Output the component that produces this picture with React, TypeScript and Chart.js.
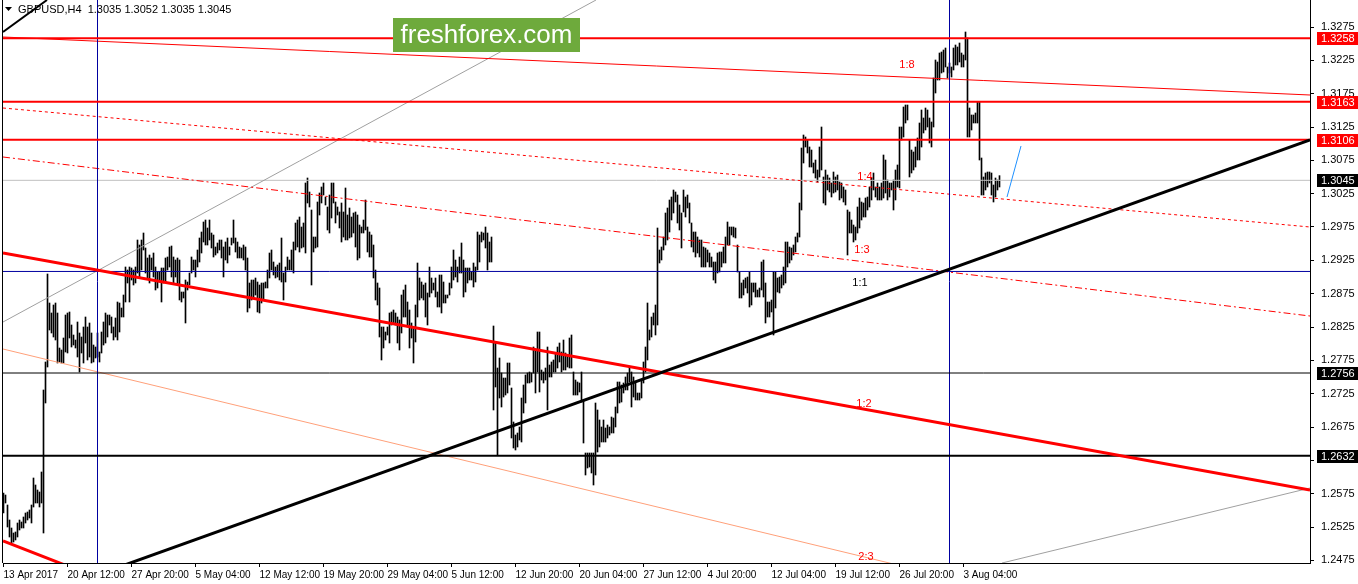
import { useEffect, useRef } from "react";
import { Chart, registerables } from "chart.js";

Chart.register(...registerables);

// H4 bars (high / low), oldest first
const barHigh: number[] = [
  1.2576, 1.2573, 1.2558, 1.25355, 1.25235, 1.2516, 1.25175, 1.2531, 1.25355, 1.25325,
  1.2540, 1.2546, 1.25475, 1.25505, 1.2558, 1.25985, 1.2588, 1.25805, 1.25775, 1.26075,
  1.27305, 1.27725, 1.29045, 1.2861, 1.2846, 1.2858, 1.2861, 1.2846, 1.27935, 1.27905,
  1.28085, 1.2843, 1.2846, 1.28475, 1.2828, 1.2813, 1.28055, 1.28325, 1.2816, 1.2810,
  1.2825, 1.2840, 1.2825, 1.2831, 1.2816, 1.2798, 1.2795, 1.2816, 1.27875, 1.28175,
  1.28325, 1.2846, 1.2843, 1.2843, 1.2840, 1.2825, 1.28385, 1.28625, 1.2861, 1.28535,
  1.2873, 1.2915, 1.29105, 1.2915, 1.29135, 1.29105, 1.2915, 1.29555, 1.2948, 1.29555,
  1.2966, 1.29435, 1.29285, 1.2933, 1.29285, 1.2936, 1.2915, 1.29075, 1.29075, 1.29135,
  1.29135, 1.29285, 1.2930, 1.2945,
  1.29465, 1.2930, 1.29255, 1.29285, 1.29255, 1.28775, 1.28775, 1.28955, 1.28925, 1.2906,
  1.2930, 1.29255, 1.29255, 1.29405, 1.29585, 1.29675, 1.29825, 1.29855, 1.29735, 1.29855,
  1.2966, 1.2963, 1.2945, 1.2951, 1.29555, 1.29555, 1.2945, 1.29525, 1.29585, 1.2945,
  1.29585, 1.29855, 1.29585, 1.29525, 1.2945, 1.29435, 1.2948, 1.2945, 1.29285, 1.2891,
  1.28955, 1.28955, 1.28985, 1.28925, 1.2888, 1.2891, 1.2891, 1.28925, 1.29105, 1.2936,
  1.29405, 1.29225, 1.2915, 1.2918, 1.2921, 1.29585, 1.2906, 1.2915, 1.2930, 1.29255,
  1.29405, 1.29525, 1.2981, 1.29855, 1.2990, 1.2975, 1.2981, 1.3041, 1.30485, 1.30275,
  1.30005, 1.2960, 1.2960, 1.30125, 1.3026, 1.3035, 1.3041, 1.3020, 1.3005, 1.3023,
  1.3041, 1.3041, 1.30125, 1.3005, 1.29975,
  1.3011, 1.29975, 1.30335, 1.2993, 1.30035, 1.2990, 1.2996, 1.29975, 1.2993, 1.2978,
  1.2975, 1.29855, 1.30155, 1.2975, 1.29675, 1.2963, 1.2948, 1.29105, 1.2891, 1.28835,
  1.2825, 1.2825, 1.28175, 1.2825, 1.2846, 1.28475, 1.28505, 1.2846, 1.2840, 1.28355,
  1.2873, 1.28805, 1.2888, 1.28625, 1.28505, 1.2831, 1.2825, 1.2858, 1.2921, 1.28985,
  1.28925, 1.2888, 1.2891, 1.2876, 1.2915, 1.28985, 1.2891, 1.28985, 1.28775, 1.2903,
  1.2903, 1.28925, 1.2873, 1.2873, 1.2891, 1.2915, 1.29405, 1.29255, 1.2915, 1.2930,
  1.2951, 1.29255, 1.29135, 1.29135, 1.29135, 1.29075, 1.2921, 1.2915, 1.29675, 1.2963,
  1.29675, 1.2966, 1.2975, 1.2966, 1.29525, 1.2960,
  1.28265, 1.2801, 1.27635, 1.27785, 1.2756, 1.27485, 1.27485, 1.2771, 1.2771, 1.27335,
  1.26825, 1.2663, 1.2666, 1.2675, 1.27185, 1.2738, 1.2753, 1.2756, 1.27575, 1.2756,
  1.2795, 1.27905, 1.28175, 1.28175, 1.27605, 1.27575, 1.27635, 1.2795, 1.2768, 1.27725,
  1.27755, 1.2786, 1.2795, 1.2801, 1.27875, 1.28055, 1.2786, 1.2783, 1.28085, 1.2813,
  1.27575, 1.27455, 1.27425, 1.2741, 1.27575, 1.27155, 1.2636, 1.2636, 1.2636, 1.2636,
  1.2636, 1.2711, 1.27005, 1.26855, 1.2675, 1.26855, 1.26735, 1.2678, 1.2675, 1.2690,
  1.26885, 1.2705, 1.27425, 1.27425, 1.2738, 1.2741, 1.2750, 1.2756, 1.2765, 1.27575,
  1.2750, 1.2741, 1.2726, 1.2726, 1.27455, 1.27725, 1.2795, 1.2861, 1.28205, 1.2840,
  1.2846, 1.2858, 1.29735, 1.29405,
  1.2945, 1.2960, 1.2996, 1.30035, 1.30155, 1.3020, 1.30305, 1.30275, 1.3023, 1.3008,
  1.2996, 1.30305, 1.3020, 1.3023, 1.3011, 1.2981, 1.29675, 1.29675, 1.2960, 1.29555,
  1.29555, 1.2945, 1.29435, 1.29405, 1.2936, 1.2930, 1.29225, 1.29225, 1.2936, 1.29375,
  1.29375, 1.2945, 1.2960, 1.29825, 1.2975, 1.2975, 1.2975, 1.29735, 1.2948, 1.29075,
  1.2891, 1.28955, 1.28985, 1.2900, 1.29075, 1.2891, 1.2891, 1.2891, 1.28805, 1.28835,
  1.29225, 1.29255, 1.2891, 1.28625, 1.28625, 1.28655, 1.29075, 1.29075, 1.28985, 1.2900,
  1.2903, 1.2915, 1.29525, 1.29525, 1.2945, 1.29435, 1.2948, 1.2960, 1.2966, 1.3011,
  1.30935, 1.3113, 1.3110, 1.31055, 1.3095, 1.30905, 1.3071, 1.30755, 1.30605, 1.3095,
  1.3125, 1.3050, 1.30605, 1.3053,
  1.30485, 1.3041, 1.30575, 1.3050, 1.3053, 1.30425, 1.3041, 1.3035, 1.30305, 1.30005,
  1.29975, 1.29855, 1.2978, 1.2975, 1.3005, 1.30185, 1.30125, 1.3011, 1.30185, 1.3020,
  1.3035, 1.30485, 1.3056, 1.3035, 1.3041, 1.3035, 1.3041, 1.3083, 1.30755, 1.30455,
  1.3041, 1.3041, 1.30455, 1.30605, 1.3068, 1.3125, 1.3125, 1.3155, 1.3158, 1.3158,
  1.31055, 1.30905, 1.30875, 1.3095, 1.31085, 1.3131, 1.31505, 1.31385, 1.31535, 1.31505,
  1.31385, 1.31325, 1.31985, 1.32255, 1.32225, 1.3236, 1.32375, 1.32405, 1.32435, 1.3215,
  1.3221, 1.3215, 1.32435, 1.3248, 1.3245, 1.3251, 1.3236, 1.3233, 1.32675, 1.32585,
  1.31535, 1.3143, 1.3143, 1.3146, 1.31625, 1.31625, 1.30785, 1.3050, 1.3056, 1.30575,
  1.30575, 1.3056, 1.3038, 1.30485, 1.30455, 1.3052,
];

const barLow: number[] = [
  1.2546, 1.2561, 1.2525, 1.2510, 1.2501, 1.25025, 1.25055, 1.2510, 1.25205, 1.25235,
  1.25235, 1.2531, 1.25355, 1.25385, 1.2531, 1.2555, 1.2561, 1.2561, 1.2555, 1.2561,
  1.2516, 1.2711, 1.2765, 1.28205, 1.2816, 1.2810, 1.28055, 1.2771, 1.27725, 1.2771,
  1.2771, 1.27875, 1.2786, 1.28085, 1.2795, 1.2798, 1.27935, 1.2780, 1.27575, 1.2786,
  1.2771, 1.2801, 1.27755, 1.2780, 1.2771, 1.27725, 1.27785, 1.2780, 1.27725, 1.2786,
  1.2798, 1.2801, 1.2810, 1.2828, 1.2816, 1.28055, 1.2810, 1.28055, 1.28175, 1.2840,
  1.2840, 1.28625, 1.2891, 1.28625, 1.28955, 1.2888, 1.2891, 1.2906, 1.2900, 1.29105,
  1.29405, 1.2906, 1.28985, 1.2891, 1.29105, 1.2900, 1.28805, 1.28835, 1.28925, 1.28625,
  1.2891, 1.2891, 1.29105, 1.2915,
  1.2900, 1.2891, 1.2900, 1.2888, 1.28655, 1.28625, 1.28685, 1.2831, 1.28805, 1.2888,
  1.2906, 1.29105, 1.2900, 1.2915, 1.29225, 1.2936, 1.29525, 1.2948, 1.2948, 1.29555,
  1.29435, 1.2930, 1.2933, 1.2936, 1.29405, 1.29285, 1.2900, 1.29255, 1.2921, 1.2933,
  1.2948, 1.2951, 1.29375, 1.29285, 1.29285, 1.29285, 1.29255, 1.29105, 1.28475, 1.28535,
  1.28655, 1.2870, 1.2873, 1.28475, 1.2846, 1.2861, 1.28655, 1.28835, 1.28835, 1.28985,
  1.29105, 1.2903, 1.28985, 1.2900, 1.28955, 1.28925, 1.28655, 1.28925, 1.29105, 1.29105,
  1.29105, 1.2906, 1.29405, 1.2945, 1.29375, 1.29435, 1.2945, 1.2936, 1.3011, 1.3005,
  1.2888, 1.29375, 1.29435, 1.2945, 1.2993, 1.3011, 1.3023, 1.3008, 1.29705, 1.2966,
  1.29885, 1.3011, 1.2981, 1.2993, 1.29735,
  1.29525, 1.2960, 1.29555, 1.29555, 1.29585, 1.2960, 1.2966, 1.2945, 1.29255, 1.29285,
  1.2966, 1.2966, 1.29705, 1.29375, 1.2930, 1.2930, 1.28985, 1.28655, 1.2858, 1.2810,
  1.27755, 1.27935, 1.28055, 1.2813, 1.2801, 1.2828, 1.2831, 1.2828, 1.2801, 1.27905,
  1.2816, 1.2840, 1.2840, 1.2825, 1.27935, 1.28085, 1.2771, 1.28025, 1.2840, 1.28655,
  1.28685, 1.28655, 1.2840, 1.2828, 1.2870, 1.2876, 1.28805, 1.2870, 1.2855, 1.2855,
  1.2846, 1.2861, 1.2861, 1.28685, 1.2873, 1.28835, 1.28955, 1.2900, 1.28925, 1.2906,
  1.2906, 1.2870, 1.28775, 1.2891, 1.28955, 1.28955, 1.2885, 1.28925, 1.29105, 1.29225,
  1.29525, 1.29555, 1.29435, 1.29105, 1.29225, 1.29225,
  1.27005, 1.2735, 1.2633, 1.27185, 1.2705, 1.2720, 1.2723, 1.2726, 1.2738, 1.26585,
  1.26435, 1.26405, 1.2645, 1.26555, 1.26525, 1.2696, 1.2711, 1.2741, 1.2741, 1.27425,
  1.2756, 1.2726, 1.27575, 1.27275, 1.27455, 1.2741, 1.27455, 1.27005, 1.2750, 1.2750,
  1.27575, 1.27575, 1.27635, 1.27725, 1.27575, 1.27605, 1.27605, 1.2765, 1.27635, 1.27635,
  1.2723, 1.2723, 1.2723, 1.27275, 1.27125, 1.2651, 1.2603, 1.26135, 1.2615, 1.2606,
  1.2588, 1.2603, 1.26375, 1.2645, 1.26525, 1.26525, 1.26525, 1.26585, 1.2663, 1.2666,
  1.2666, 1.2675, 1.2696, 1.2711, 1.27125, 1.2726, 1.27305, 1.27305, 1.27425, 1.2705,
  1.2720, 1.27155, 1.27155, 1.27155, 1.27185, 1.2741, 1.27575, 1.27755, 1.28055, 1.2810,
  1.2828, 1.2813, 1.2828, 1.2921,
  1.29255, 1.29405, 1.2948, 1.29555, 1.29675, 1.29855, 1.2996, 1.30125, 1.2981, 1.29705,
  1.29435, 1.29975, 1.2990, 1.30035, 1.2981, 1.2945, 1.29375, 1.2930, 1.2936, 1.2930,
  1.2915, 1.2915, 1.2915, 1.29225, 1.2915, 1.2915, 1.28955, 1.2891, 1.2906, 1.29075,
  1.2915, 1.2921, 1.2921, 1.2948, 1.2948, 1.2963, 1.2960, 1.29585, 1.29075, 1.28685,
  1.28685, 1.2873, 1.28835, 1.2876, 1.2855, 1.2858, 1.28775, 1.2870, 1.2870, 1.2870,
  1.28805, 1.2870, 1.2831, 1.2840, 1.2840, 1.28475, 1.2813, 1.28535, 1.28775, 1.2876,
  1.28835, 1.2888, 1.2891, 1.2915, 1.2921, 1.29255, 1.2933, 1.29375, 1.29525, 1.2960,
  1.30005, 1.3071, 1.3095, 1.3086, 1.3065, 1.3065, 1.3056, 1.30485, 1.30425, 1.3050,
  1.30605, 1.3011, 1.3008, 1.30305,
  1.30275, 1.3020, 1.3026, 1.30275, 1.30305, 1.30155, 1.30185, 1.30125, 1.3008, 1.2933,
  1.2966, 1.2966, 1.29525, 1.29555, 1.2966, 1.29735, 1.29855, 1.2990, 1.2990, 1.30005,
  1.3005, 1.30155, 1.30305, 1.3020, 1.30155, 1.30155, 1.30155, 1.30185, 1.3026, 1.30155,
  1.3020, 1.30305, 1.30005, 1.30155, 1.3035, 1.30335, 1.31055, 1.3110, 1.3131, 1.31355,
  1.3050, 1.3056, 1.30605, 1.3065, 1.30755, 1.30755, 1.3095, 1.3116, 1.31205, 1.3125,
  1.3101, 1.3095, 1.3125, 1.3176, 1.31955, 1.31955, 1.3206, 1.32075, 1.3215, 1.31985,
  1.3206, 1.3200, 1.32105, 1.3218, 1.3218, 1.32225, 1.3215, 1.3215, 1.32255, 1.3110,
  1.3110, 1.31205, 1.3131, 1.3131, 1.3131, 1.30755, 1.3023, 1.3023, 1.30305, 1.3035,
  1.3041, 1.3023, 1.30125, 1.3020, 1.30305, 1.3035,
];

// time axis: one label every 32 bars
const timeTickIndex = [0, 32, 64, 96, 128, 160, 192, 224, 256, 288, 320, 352, 384, 416, 448, 480];
const timeTickLabels = [
  "13 Apr 2017", "20 Apr 12:00", "27 Apr 20:00", "5 May 04:00", "12 May 12:00", "19 May 20:00",
  "29 May 04:00", "5 Jun 12:00", "12 Jun 20:00", "20 Jun 04:00", "27 Jun 12:00", "4 Jul 20:00",
  "12 Jul 04:00", "19 Jul 12:00", "26 Jul 20:00", "3 Aug 04:00",
];
const priceTicks = [
  1.2475, 1.2525, 1.2575, 1.2625, 1.2675, 1.2725, 1.2775, 1.2825, 1.2875,
  1.2925, 1.2975, 1.3025, 1.3075, 1.3125, 1.3175, 1.3225, 1.3275,
];

// horizontal levels
const redLevels = [1.3258, 1.3163, 1.3106];
const bidPrice = 1.3045;
const thinBlackLevel = 1.2756;
const thickBlackLevel = 1.2632;
const blueLevel = 1.29083;
const verticalIdx = [47, 473];

// drawn lines: [barIndex, price] endpoints
const fan18 = [[-0.25, 1.326], [653.25, 1.3173]];
const fan14 = [[-0.25, 1.31535], [653.25, 1.2975]];
const fan13 = [[-0.25, 1.308], [653.25, 1.28415]];
const fan12 = [[-0.25, 1.2936], [653.25, 1.25805]];
const fan23 = [[-0.25, 1.2792], [453.25, 1.24635]];
const redLowLeft = [[-0.25, 1.2504], [33.25, 1.2465]];
const blackTrend = [[58.25, 1.24655], [653.25, 1.31055]];
const blackTopLeft = [[-0.25, 1.32675], [21.75, 1.33155]];
const grayRising = [[-0.25, 1.28325], [296.25, 1.33155]];
const grayLowRight = [[499.25, 1.2471], [653.25, 1.25835]];
const blueForecast = [[501.75, 1.302], [508.75, 1.30965]];

const gannLabels = ["1:8", "1:4", "1:3", "1:1", "1:2", "2:3"];
const gannLabelIdx = [451.75, 430.75, 429.25, 428.25, 430.25, 431.25];
const gannLabelPrice = [1.3218, 1.305, 1.29405, 1.2891, 1.27095, 1.248];

const titleText = "GBPUSD,H4  1.3035 1.3052 1.3035 1.3045";
const watermarkText = "freshforex.com";

const X_MIN = -0.25;
const X_MAX = 653.25;
const Y_MIN = 1.2471;
const Y_MAX = 1.33155;

const FONT = '"Liberation Sans", Arial, sans-serif';

function seg(pts: number[][], color: string, width: number, dash: number[] = []) {
  return {
    type: "line" as const,
    data: pts.map(([x, y]) => ({ x, y })),
    borderColor: color,
    borderWidth: width,
    borderDash: dash,
    pointRadius: 0,
    pointHoverRadius: 0,
    fill: false,
    tension: 0,
    order: 0,
  };
}

const overlayPlugin = {
  id: "overlayText",
  afterDraw(chart: any) {
    const { ctx, chartArea } = chart;
    const xs = chart.scales.x;
    const ys = chart.scales.y;
    ctx.save();
    // left frame
    ctx.fillStyle = "#000";
    ctx.fillRect(2, 0, 1, chartArea.bottom);

    // fan labels
    ctx.font = "11px " + FONT;
    ctx.textAlign = "center";
    ctx.textBaseline = "middle";
    gannLabels.forEach((t, k) => {
      ctx.fillStyle = t === "1:1" ? "#000" : "#ff0000";
      ctx.fillText(t, xs.getPixelForValue(gannLabelIdx[k]), ys.getPixelForValue(gannLabelPrice[k]));
    });

    // price boxes on the axis
    const boxes: [number, string][] = [
      ...redLevels.map((p) => [p, "#ff0000"] as [number, string]),
      [bidPrice, "#000"],
      [thinBlackLevel, "#000"],
      [thickBlackLevel, "#000"],
    ];
    ctx.font = "11px " + FONT;
    ctx.textAlign = "left";
    boxes.forEach(([p, c]) => {
      const y = Math.round(ys.getPixelForValue(p));
      ctx.fillStyle = c;
      ctx.fillRect(1317, y - 6, 41, 13);
      ctx.fillStyle = "#fff";
      ctx.fillText(p.toFixed(4), 1321, y + 1);
    });

    // title
    ctx.fillStyle = "#000";
    ctx.beginPath();
    ctx.moveTo(5, 7);
    ctx.lineTo(12, 7);
    ctx.lineTo(8.5, 11);
    ctx.closePath();
    ctx.fill();
    ctx.font = "11px " + FONT;
    ctx.textAlign = "left";
    ctx.fillText(titleText, 18, 10);

    // watermark
    ctx.fillStyle = "#6eaa3c";
    ctx.fillRect(393, 18, 187, 34);
    ctx.fillStyle = "#fff";
    ctx.font = "26px " + FONT;
    ctx.textAlign = "center";
    ctx.fillText(watermarkText, 486.5, 36);
    ctx.restore();
  },
};

export default function App() {
  const ref = useRef<HTMLCanvasElement | null>(null);

  useEffect(() => {
    if (!ref.current) return;
    const bars = barHigh.map((h, i) => ({ x: i, y: [barLow[i], h] }));
    const full = (p: number) => [[X_MIN, p], [X_MAX, p]];
    const vert = (i: number) => [[i, Y_MIN], [i, Y_MAX]];

    const datasets: any[] = [
      seg(blueForecast, "#1e90ff", 1),
      seg(blackTrend, "#000", 3),
      seg(fan12, "#ff0000", 3),
      seg(redLowLeft, "#ff0000", 3),
      seg(blackTopLeft, "#000", 2),
      ...redLevels.map((p) => seg(full(p), "#ff0000", 2)),
      seg(full(thickBlackLevel), "#000", 2),
      seg(full(thinBlackLevel), "#000", 1),
      seg(full(blueLevel), "#0000a0", 1),
      ...verticalIdx.map((i) => seg(vert(i), "#0000a0", 1)),
      seg(fan18, "#ff0000", 1),
      seg(fan14, "#ff0000", 1, [3, 3]),
      seg(fan13, "#ff0000", 1, [7, 3, 2, 3]),
      seg(fan23, "#ffa07a", 1),
      seg(grayRising, "#a0a0a0", 1),
      seg(grayLowRight, "#a0a0a0", 1),
      seg(full(bidPrice), "#c0c0c0", 1),
      {
        type: "bar",
        data: bars,
        backgroundColor: "#000",
        borderWidth: 0,
        barThickness: 1,
        grouped: false,
        order: 1,
      },
    ];

    const chart = new Chart(ref.current, {
      type: "bar",
      data: { datasets },
      options: {
        animation: false,
        responsive: false,
        devicePixelRatio: 1,
        layout: { padding: { left: 3, top: 0, right: 0, bottom: 0 } },
        plugins: { legend: { display: false }, tooltip: { enabled: false } },
        events: [],
        scales: {
          x: {
            type: "linear",
            min: X_MIN,
            max: X_MAX,
            offset: false,
            position: "bottom",
            afterBuildTicks: (s: any) => {
              s.ticks = timeTickIndex.map((v) => ({ value: v }));
            },
            afterFit: (s: any) => {
              s.height = 21;
              s.paddingLeft = 0;
              s.paddingRight = 0;
            },
            ticks: {
              autoSkip: false,
              maxRotation: 0,
              minRotation: 0,
              align: "start",
              padding: 2,
              color: "#000",
              font: { family: FONT, size: 10 },
              callback: (v: any) => {
                const k = timeTickIndex.indexOf(Number(v));
                return k >= 0 ? timeTickLabels[k] : "";
              },
            },
            grid: { display: true, drawOnChartArea: false, drawTicks: true, tickLength: 4, color: "#000", offset: false },
            border: { display: true, color: "#000", width: 1 },
          },
          y: {
            type: "linear",
            position: "right",
            min: Y_MIN,
            max: Y_MAX,
            afterBuildTicks: (s: any) => {
              s.ticks = priceTicks.map((v) => ({ value: v }));
            },
            afterFit: (s: any) => {
              s.width = 48;
              s.paddingTop = 0;
              s.paddingBottom = 0;
            },
            ticks: {
              autoSkip: false,
              padding: 7,
              color: "#000",
              font: { family: FONT, size: 11 },
              callback: (v: any) => Number(v).toFixed(4),
            },
            grid: { display: true, drawOnChartArea: false, drawTicks: true, tickLength: 4, color: "#000" },
            border: { display: true, color: "#000", width: 1 },
          },
        },
      } as any,
      plugins: [overlayPlugin],
    });
    return () => chart.destroy();
  }, []);

  return (
    <div style={{ position: "fixed", left: 0, top: 0, width: 1358, height: 584, background: "#fff" }}>
      <canvas ref={ref} width={1358} height={584} style={{ display: "block" }} />
    </div>
  );
}
